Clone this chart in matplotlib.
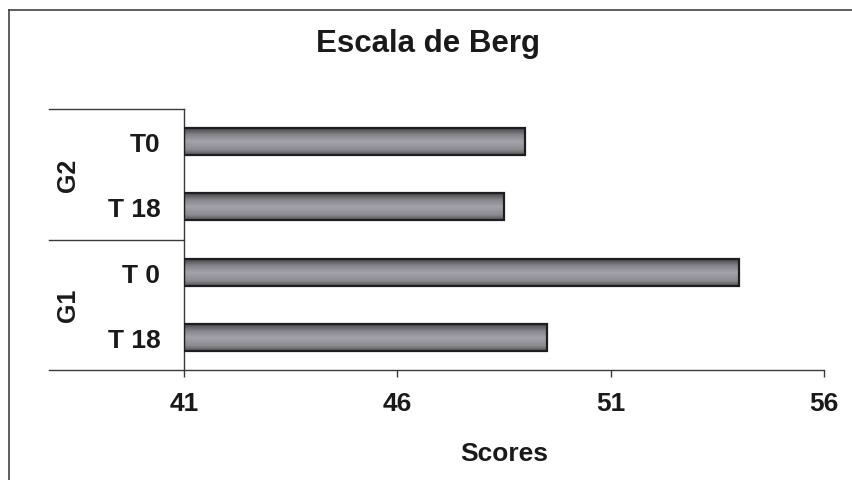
import numpy as np
import matplotlib
matplotlib.use("Agg")
from matplotlib import pyplot as plt
from matplotlib.colors import LinearSegmentedColormap
from matplotlib.lines import Line2D
import matplotlib.transforms as mtransforms

# data, bottom to top
groups = ["G1", "G2"]
labels = ["T 18", "T 0", "T 18", "T0"]
scores = [49.5, 54.0, 48.5, 49.0]
x_ticks = [41, 46, 51, 56]

plt.rcParams['font.family'] = ['Liberation Sans', 'DejaVu Sans']
plt.rcParams['font.weight'] = 'bold'

W, H = 853, 481
fig = plt.figure(figsize=(W / 100, H / 100), dpi=100)
ax = fig.add_axes([184 / W, 1 - 371 / H, 640 / W, 261 / H])

txt = '#1a1a1a'
line_c = '#3a3a3a'

y = np.arange(len(scores))
x0 = x_ticks[0]
bars = ax.barh(y, np.array(scores) - x0, left=x0, height=0.41,
               facecolor='none', edgecolor='#1e1e1e', linewidth=1.6, zorder=3)

# gradient fill, dark at top and bottom, light in the middle
grad = LinearSegmentedColormap.from_list(
    'bar', [(0, '#48484c'), (0.25, '#85858b'), (0.5, '#a3a3a9'),
            (0.8, '#8c8c92'), (1, '#56565a')])
g = np.linspace(0, 1, 64).reshape(-1, 1)
for b in bars:
    bx, by = b.get_x(), b.get_y()
    bw, bh = b.get_width(), b.get_height()
    im = ax.imshow(g, cmap=grad, aspect='auto', origin='upper',
                   extent=[bx, bx + bw, by, by + bh], zorder=2)
    im.set_clip_path(b)

ax.set_xlim(41, 56)
ax.set_ylim(-0.5, 3.5)

ax.spines['top'].set_visible(False)
ax.spines['right'].set_visible(False)
for s in ['left', 'bottom']:
    ax.spines[s].set_color(line_c)
    ax.spines[s].set_linewidth(1.0)

ax.set_xticks(x_ticks)
ax.set_xticklabels([str(t) for t in x_ticks], fontsize=19, fontweight='bold', color=txt)
ax.tick_params(axis='x', direction='out', length=5, width=1.0, color=line_c, pad=10)

ax.set_yticks(y)
ax.set_yticklabels(labels, fontsize=19, fontweight='bold', color=txt)
ax.tick_params(axis='y', length=0, pad=17)

ax.set_xlabel("Scores", fontsize=19, fontweight='bold', color=txt, va='center')
ax.xaxis.set_label_coords(0.5, (371 - 454) / 261)

# multi-level category separators and group labels
trans = mtransforms.blended_transform_factory(ax.transAxes, ax.transData)
left_x = (49 - 184) / 640
for yy in [-0.5, 1.5, 3.5]:
    ax.add_line(Line2D([left_x, 0], [yy, yy], transform=trans, color=line_c,
                       linewidth=1.0, clip_on=False))
for i, gname in enumerate(groups):
    ax.text((68 - 184) / 640, 0.5 + 2 * i, gname, transform=trans, rotation=90,
            ha='center', va='center', fontsize=18, fontweight='bold', color=txt)

fig.text(428 / W, 1 - 44 / H, "Escala de Berg", ha='center', va='center',
         fontsize=22.5, fontweight='bold', color=txt)

# outer chart frame (cut off at right and bottom)
fig.add_artist(Line2D([9 / W, 9 / W], [0, 1 - 11 / H], transform=fig.transFigure,
                      color='#444444', linewidth=1.2))
fig.add_artist(Line2D([9 / W, 1], [1 - 11 / H, 1 - 11 / H], transform=fig.transFigure,
                      color='#444444', linewidth=1.2))

fig.savefig("out.png", dpi=100)
